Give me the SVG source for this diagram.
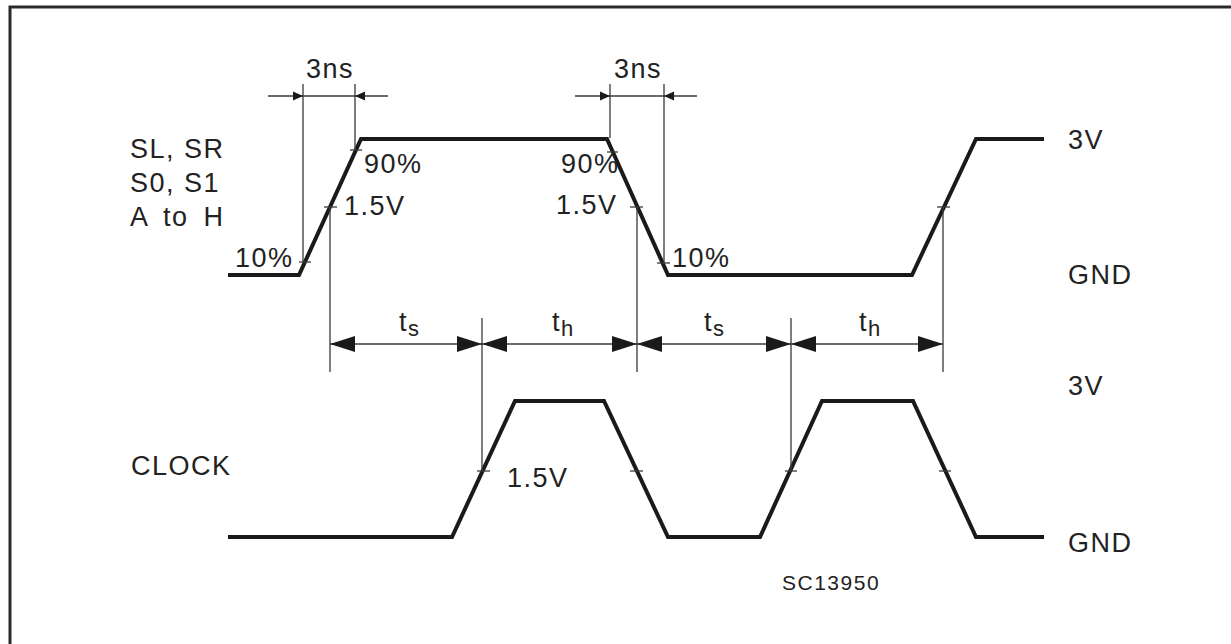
<svg xmlns="http://www.w3.org/2000/svg" width="1231" height="644" viewBox="0 0 1231 644">
<style>
.sig{fill:none;stroke:#1a1a1a;stroke-width:4;stroke-linejoin:miter}
.thin{fill:none;stroke:#3a3a3a;stroke-width:1.3}
.ah{fill:#1a1a1a;stroke:none}
.lbl{font-family:"Liberation Sans",Arial,sans-serif;font-size:27px;fill:#222;letter-spacing:1.5px}
.sub{font-family:"Liberation Sans",Arial,sans-serif;font-size:22px;fill:#222}
.code{font-family:"Liberation Sans",Arial,sans-serif;font-size:21px;fill:#222;letter-spacing:1.5px}
</style>
<rect x="0" y="0" width="1231" height="644" fill="#fff"/>
<path d="M10,644 V7 H1231" fill="none" stroke="#2a2a2a" stroke-width="3"/>

<g id="data-signal">
<polyline class="sig" points="228,275 299,275 361,139 607,139 668,275 912,275 976,139 1044,139"/>
</g>
<g id="clock-signal">
<polyline class="sig" points="228,537 452,537 515,401 604,401 668,537 760,537 822,401 913,401 976,537 1044,537"/>
</g>

<g id="connectors">
<!-- 3ns dimension left -->
<line class="thin" x1="303" y1="84" x2="303" y2="262"/>
<line class="thin" x1="355" y1="84" x2="355" y2="150"/>
<line class="thin" x1="268" y1="96" x2="388" y2="96"/>
<polygon class="ah" points="303,96 293,91.5 293,100.5"/>
<polygon class="ah" points="355,96 365,91.5 365,100.5"/>
<!-- 3ns dimension right -->
<line class="thin" x1="610" y1="84" x2="610" y2="138"/>
<line class="thin" x1="664" y1="84" x2="664" y2="263"/>
<line class="thin" x1="575" y1="96" x2="697" y2="96"/>
<polygon class="ah" points="610,96 600,91.5 600,100.5"/>
<polygon class="ah" points="664,96 674,91.5 674,100.5"/>
<!-- ticks on data signal -->
<line class="thin" x1="299" y1="262" x2="311" y2="262"/>
<line class="thin" x1="324" y1="207" x2="337" y2="207"/>
<line class="thin" x1="350" y1="150" x2="362" y2="150"/>
<line class="thin" x1="607" y1="152" x2="618" y2="152"/>
<line class="thin" x1="630" y1="207" x2="643" y2="207"/>
<line class="thin" x1="657" y1="263" x2="670" y2="263"/>
<line class="thin" x1="937" y1="207" x2="950" y2="207"/>
<!-- ticks on clock -->
<line class="thin" x1="477" y1="471" x2="490" y2="471"/>
<line class="thin" x1="630" y1="471" x2="643" y2="471"/>
<line class="thin" x1="785" y1="471" x2="797" y2="471"/>
<line class="thin" x1="939" y1="471" x2="951" y2="471"/>
<!-- timing verticals -->
<line class="thin" x1="330" y1="207" x2="330" y2="372"/>
<line class="thin" x1="637" y1="207" x2="637" y2="372"/>
<line class="thin" x1="943" y1="207" x2="943" y2="372"/>
<line class="thin" x1="482" y1="318" x2="482" y2="471"/>
<line class="thin" x1="791" y1="318" x2="791" y2="471"/>
<!-- timing dimension line -->
<line class="thin" x1="330" y1="344" x2="943" y2="344"/>
<polygon class="ah" points="330,344 355,336 355,352"/>
<polygon class="ah" points="482,344 457,336 457,352"/>
<polygon class="ah" points="482,344 507,336 507,352"/>
<polygon class="ah" points="637,344 612,336 612,352"/>
<polygon class="ah" points="637,344 662,336 662,352"/>
<polygon class="ah" points="791,344 766,336 766,352"/>
<polygon class="ah" points="791,344 816,336 816,352"/>
<polygon class="ah" points="943,344 918,336 918,352"/>
</g>

<g id="labels">
<text class="lbl" x="306" y="78">3ns</text>
<text class="lbl" x="614" y="78">3ns</text>
<text class="lbl" x="130" y="158">SL, SR</text>
<text class="lbl" x="130" y="192">S0, S1</text>
<text class="lbl" x="130" y="226" word-spacing="6">A to H</text>
<text class="lbl" x="235" y="267">10%</text>
<text class="lbl" x="344" y="215">1.5V</text>
<text class="lbl" x="364" y="173">90%</text>
<text class="lbl" x="561" y="173">90%</text>
<text class="lbl" x="556" y="214">1.5V</text>
<text class="lbl" x="672" y="267">10%</text>
<text class="lbl" x="1068" y="149">3V</text>
<text class="lbl" x="1068" y="284">GND</text>
<text class="lbl" x="1068" y="395">3V</text>
<text class="lbl" x="1068" y="552">GND</text>
<text class="lbl" x="131" y="475">CLOCK</text>
<text class="lbl" x="507" y="487">1.5V</text>
<text class="lbl" x="399" y="331">t<tspan class="sub" dy="5">s</tspan></text>
<text class="lbl" x="552" y="331">t<tspan class="sub" dy="5">h</tspan></text>
<text class="lbl" x="704" y="331">t<tspan class="sub" dy="5">s</tspan></text>
<text class="lbl" x="859" y="331">t<tspan class="sub" dy="5">h</tspan></text>
<text class="code" x="782" y="590">SC13950</text>
</g>
</svg>
